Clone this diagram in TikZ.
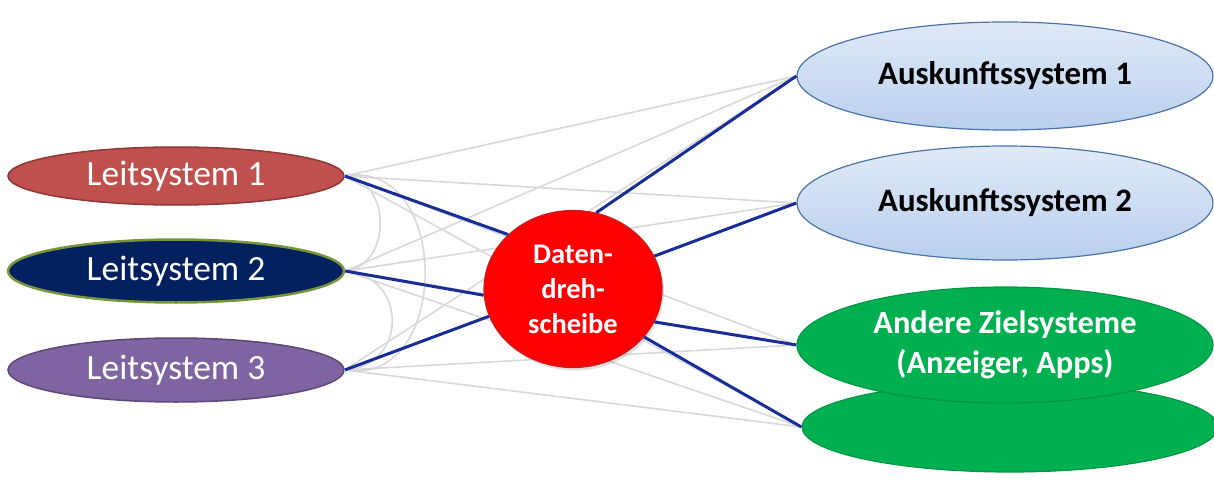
\documentclass[tikz,border=0pt]{standalone}
\usepackage{fontspec}
\setmainfont{Carlito}
\usetikzlibrary{shapes.geometric,shadows}
\definecolor{lsred}{RGB}{192,80,77}
\definecolor{lsredb}{RGB}{140,56,54}
\definecolor{lsnavy}{RGB}{0,32,96}
\definecolor{lsgreenb}{RGB}{119,147,60}
\definecolor{lspurple}{RGB}{128,100,162}
\definecolor{lspurpleb}{RGB}{92,71,118}
\definecolor{hubred}{RGB}{255,0,0}
\definecolor{hubredb}{RGB}{200,30,30}
\definecolor{zgreen}{RGB}{0,176,80}
\definecolor{zgreenb}{RGB}{0,150,70}
\definecolor{abord}{RGB}{75,115,170}
\definecolor{atop}{RGB}{224,234,248}
\definecolor{abot}{RGB}{185,207,238}
\definecolor{linkblue}{RGB}{24,46,150}
\definecolor{linkgray}{RGB}{216,216,216}
\tikzset{
  leit/.style={ellipse, inner sep=0pt, minimum width=336pt, text=white, font=\fontsize{35.5}{40}\selectfont},
  ausk/.style={ellipse, inner sep=0pt, minimum width=416pt, draw=abord, line width=1.2pt,
    top color=atop, bottom color=abot, font=\bfseries\fontsize{32.8}{38}\selectfont},
  ziel/.style={ellipse, inner sep=0pt, minimum width=416pt, draw=zgreenb, line width=1.2pt,
    fill=zgreen, text=white, align=center, font=\bfseries\fontsize{32.4}{40}\selectfont},
  hub/.style={ellipse, inner sep=0pt, minimum width=178pt, minimum height=157pt,
    fill=hubred, draw=hubredb, line width=1.2pt, text=white, align=center,
    font=\bfseries\fontsize{28.5}{35}\selectfont,
    drop shadow={shadow xshift=2pt, shadow yshift=-3pt, opacity=0.25}},
  grayline/.style={draw=linkgray, line width=1.6pt},
  blueline/.style={draw=linkblue, line width=3pt}
}
\begin{document}
\begin{tikzpicture}[x=1pt,y=-1pt]
\useasboundingbox (0,0) rectangle (1214,481);
% left systems
\node[leit, minimum height=58pt, fill=lsred, draw=lsredb, line width=1.5pt] (L1) at (176,176) {Leitsystem 1};
\node[leit, minimum height=63pt, fill=lsnavy, draw=lsgreenb, line width=2.5pt] (L2) at (176,271) {Leitsystem 2};
\node[leit, minimum height=64pt, fill=lspurple, draw=lspurpleb, line width=1.5pt] (L3) at (176,370) {Leitsystem 3};
% right systems
\node[ausk, minimum height=108pt] (A1) at (1005,76) {Auskunftssystem 1};
\node[ausk, minimum height=114pt] (A2) at (1005,203) {Auskunftssystem 2};
\node[ziel, minimum height=90pt] (B) at (1010,427) {};
\node[ziel, minimum height=116pt] (AZ) at (1005,345) {Andere Zielsysteme\\(Anzeiger, Apps)};
% gray direct links
\foreach \l in {L1,L2,L3}{
  \foreach \r in {A1,A2,AZ,B}{
    \draw[grayline] (\l.east) -- (\r.west);
  }
}
\draw[grayline] (L1.east) .. controls (452,158) and (452,388) .. (L3.east);
\draw[grayline] (L1.east) .. controls (392,180) and (392,266) .. (L2.east);
\draw[grayline] (L2.east) .. controls (408,276) and (408,366) .. (L3.east);
% hub
\node[hub] (dh) at (573,289) {Daten-\\dreh-\\scheibe};
% blue links
\draw[blueline] (L1.east) -- (dh.140);
\draw[blueline] (L2.east) -- (dh.184);
\draw[blueline] (L3.east) -- (dh.198);
\draw[blueline] (dh.73) -- (A1.west);
\draw[blueline] (dh.22) -- (A2.west);
\draw[blueline] (dh.-22) -- (AZ.west);
\draw[blueline] (dh.-34) -- (B.west);
\end{tikzpicture}
\end{document}
